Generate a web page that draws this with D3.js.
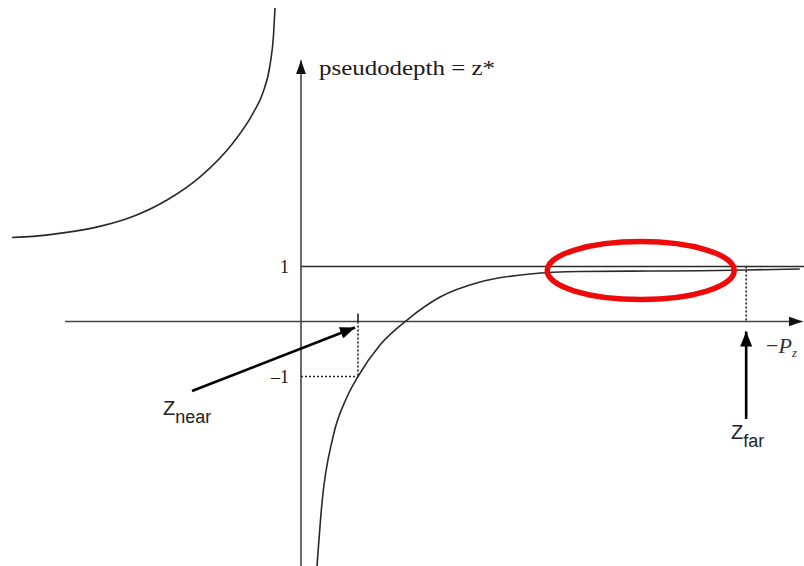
<!DOCTYPE html>
<html>
<head>
<meta charset="utf-8">
<script src="https://cdn.jsdelivr.net/npm/d3@7"></script>
<style>
  html, body { margin: 0; padding: 0; background: #fff; }
  svg { display: block; }
</style>
</head>
<body>
<svg id="chart" width="804" height="566"></svg>
<script>
// Pseudodepth z* as a function of -Pz (eye-space depth)
// Branch for -Pz < 0 (behind the eye)
const backBranchX = [-5.07, -4.70, -4.11, -3.53, -2.95, -2.35, -1.77, -1.19, -0.84, -0.67, -0.544, -0.482, -0.456];
const backBranchY = [1.527, 1.548, 1.62, 1.73, 1.91, 2.21, 2.63, 3.25, 3.79, 4.155, 4.66, 5.21, 5.70];
// Branch for -Pz > 0 (in front of the eye)
const frontBranchX = [0.281, 0.368, 0.561, 0.807, 1.00, 1.386, 1.86, 2.44, 3.14, 4.02, 4.90, 6.12, 7.00, 7.81, 8.75];
const frontBranchY = [-4.445, -3.30, -2.10, -1.373, -1.00, -0.427, 0.027, 0.445, 0.718, 0.864, 0.909, 0.918, 0.922, 0.936, 0.955];

// Clipping planes and value ticks
const zNear = 1.0;
const zFar = 7.81;
const yTickValues = [1, -1];
const yTickLabels = ["1", "\u20131"];

// Axis extents (data units)
const xAxisExtent = [-4.14, 8.8];
const yAxisExtent = [-4.45, 4.75];

const svg = d3.select("#chart");
const x = d3.scaleLinear().domain([0, 1]).range([301, 358]);
const y = d3.scaleLinear().domain([-1, 1]).range([376.5, 266.5]);

const ink = "#2a2a2a";

// Arrowhead markers
const defs = svg.append("defs");
function marker(id, len, half, color) {
  defs.append("marker")
    .attr("id", id)
    .attr("viewBox", `0 ${-half} ${len} ${2 * half}`)
    .attr("refX", len).attr("refY", 0)
    .attr("markerWidth", len).attr("markerHeight", 2 * half)
    .attr("markerUnits", "userSpaceOnUse")
    .attr("orient", "auto")
    .append("path")
    .attr("d", `M0,${-half}L${len},0L0,${half}Z`)
    .attr("fill", color);
}
marker("axisHead", 14, 5, "#111");
marker("callHead", 15, 6, "#000");

// Horizontal line at z* = 1
svg.append("line")
  .attr("x1", x(0)).attr("x2", 804)
  .attr("y1", y(1)).attr("y2", y(1))
  .attr("stroke", ink).attr("stroke-width", 1.3);

// Axes
svg.append("line")
  .attr("x1", x(xAxisExtent[0])).attr("x2", x(xAxisExtent[1]))
  .attr("y1", y(0)).attr("y2", y(0))
  .attr("stroke", "#444").attr("stroke-width", 1.6)
  .attr("marker-end", "url(#axisHead)");
svg.append("line")
  .attr("x1", x(0)).attr("x2", x(0))
  .attr("y1", y(yAxisExtent[0])).attr("y2", y(yAxisExtent[1]))
  .attr("stroke", "#444").attr("stroke-width", 1.6)
  .attr("marker-end", "url(#axisHead)");

// Value labels on the vertical axis
const yAxis = d3.axisLeft(y)
  .tickValues(yTickValues)
  .tickSize(0)
  .tickPadding(12)
  .tickFormat((d, i) => yTickLabels[i]);
const gy = svg.append("g").attr("transform", `translate(${x(0)},0)`).call(yAxis);
gy.select(".domain").remove();
gy.selectAll("text")
  .attr("font-family", "'Liberation Serif', 'Times New Roman', serif")
  .attr("font-size", 18)
  .attr("fill", "#1a1a1a");

// Near / far plane guides
const dotted = "2,2";
svg.append("line")
  .attr("x1", x(0)).attr("x2", x(zNear))
  .attr("y1", y(-1)).attr("y2", y(-1))
  .attr("stroke", "#222").attr("stroke-width", 1.6).attr("stroke-dasharray", dotted);
svg.append("line")
  .attr("x1", x(zNear)).attr("x2", x(zNear))
  .attr("y1", y(0)).attr("y2", y(-1))
  .attr("stroke", "#222").attr("stroke-width", 1.6).attr("stroke-dasharray", dotted);
svg.append("line")
  .attr("x1", x(zNear)).attr("x2", x(zNear))
  .attr("y1", y(0) - 8).attr("y2", y(0))
  .attr("stroke", "#222").attr("stroke-width", 1.6);
svg.append("line")
  .attr("x1", x(zFar)).attr("x2", x(zFar))
  .attr("y1", y(1)).attr("y2", y(0))
  .attr("stroke", "#222").attr("stroke-width", 1.6).attr("stroke-dasharray", dotted);

// Curves
const line = d3.line()
  .x(d => x(d[0])).y(d => y(d[1]))
  .curve(d3.curveMonotoneX);
svg.append("path")
  .datum(d3.zip(backBranchX, backBranchY))
  .attr("d", line)
  .attr("fill", "none").attr("stroke", ink).attr("stroke-width", 1.6);
svg.append("path")
  .datum(d3.zip(frontBranchX, frontBranchY))
  .attr("d", line)
  .attr("fill", "none").attr("stroke", ink).attr("stroke-width", 1.6);

// Callout arrows
svg.append("line")
  .attr("x1", 192).attr("y1", 391)
  .attr("x2", x(zNear) - 3).attr("y2", y(0) + 6)
  .attr("stroke", "#000").attr("stroke-width", 2.6)
  .attr("marker-end", "url(#callHead)");
svg.append("line")
  .attr("x1", x(zFar)).attr("y1", 419)
  .attr("x2", x(zFar)).attr("y2", y(0) + 10)
  .attr("stroke", "#000").attr("stroke-width", 2.6)
  .attr("marker-end", "url(#callHead)");

// Text labels
const sans = "'Liberation Sans', Arial, sans-serif";
const serif = "'Liberation Serif', 'Times New Roman', serif";

svg.append("text")
  .attr("x", 319).attr("y", 75)
  .attr("font-family", serif).attr("font-size", 21)
  .attr("fill", "#1a1a1a")
  .attr("textLength", 176).attr("lengthAdjust", "spacingAndGlyphs")
  .text("pseudodepth = z*");

const near = svg.append("text")
  .attr("x", 163).attr("y", 415)
  .attr("font-family", sans).attr("font-size", 20).attr("fill", "#222");
near.append("tspan").text("Z");
near.append("tspan").attr("dy", 8).attr("font-size", 18).text("near");

const far = svg.append("text")
  .attr("x", 731).attr("y", 439)
  .attr("font-family", sans).attr("font-size", 20).attr("fill", "#222");
far.append("tspan").text("Z");
far.append("tspan").attr("dy", 8).attr("font-size", 18).text("far");

const pz = svg.append("text")
  .attr("x", 766).attr("y", 353)
  .attr("font-family", serif).attr("font-size", 22).attr("fill", "#333");
pz.append("tspan").text("\u2212");
pz.append("tspan").attr("font-style", "italic").text("P");
pz.append("tspan").attr("dy", 4).attr("font-size", 13).attr("font-style", "italic").text("z");

// Highlight around the flat region near z* = 1
svg.append("ellipse")
  .attr("cx", x(5.96)).attr("cy", y(0.927))
  .attr("rx", 93.5).attr("ry", 29)
  .attr("fill", "none")
  .attr("stroke", "#ee0a0a").attr("stroke-width", 5.5);
</script>
</body>
</html>
